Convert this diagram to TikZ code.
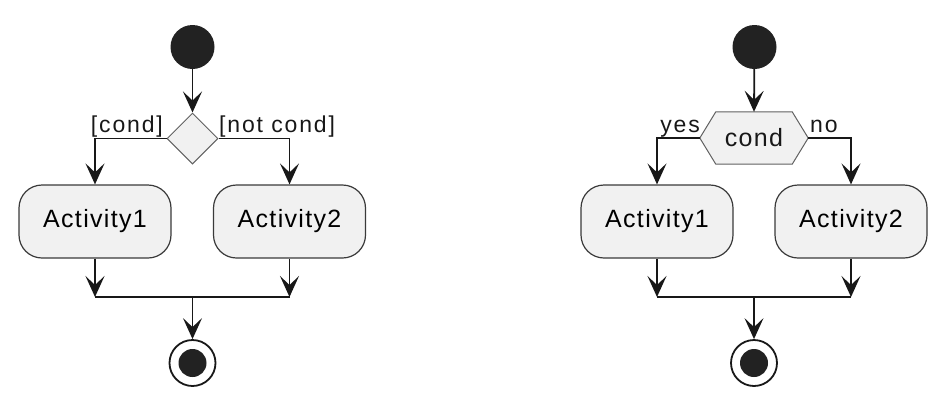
\documentclass[tikz,border=0pt]{standalone}
\usepackage{fontspec}
\setmainfont{Liberation Sans}
\newfontfamily\actfont{Liberation Sans}[LetterSpace=5.3]
\newfontfamily\lblfont{Liberation Sans}[LetterSpace=8]
\usetikzlibrary{arrows.meta,shapes.geometric}
\pgfdeclarelayer{background}
\pgfsetlayers{background,main}

\definecolor{ink}{HTML}{181818}
\definecolor{boxfill}{HTML}{F1F1F1}
\definecolor{boxline}{HTML}{3A3A3A}
\definecolor{dotfill}{HTML}{222222}

\tikzset{
  flowline/.style={draw=ink, line width=1.8pt},
  flow/.style={flowline, -{Stealth[length=21pt,width=19pt,inset=9pt]}},
  activity/.style={draw=boxline, fill=boxfill, line width=1.2pt,
    rounded corners=23pt, minimum width=152pt, minimum height=73pt,
    inner sep=0pt, font=\actfont\fontsize{25}{30}\selectfont},
  startdot/.style={circle, fill=dotfill, minimum size=44pt, inner sep=0pt},
  enddot/.style={circle, draw=ink, line width=1.8pt, fill=white,
    minimum size=46pt, inner sep=0pt},
  decision/.style={diamond, draw=boxline!80, fill=boxfill, line width=1pt,
    minimum width=51pt, minimum height=51pt, inner sep=0pt},
  guard/.style={font=\lblfont\fontsize{23}{27}\selectfont, inner sep=0pt, text=ink},
  hexlabel/.style={minimum width=108pt, minimum height=52pt, inner sep=0pt,
    font=\actfont\fontsize{25}{30}\selectfont, text=ink},
  hexshape/.style={draw=boxline!80, fill=boxfill, line width=1pt}
}

\begin{document}
\begin{tikzpicture}[x=1pt, y=-1pt]
\useasboundingbox (0,0) rectangle (937,397);

% ---------- guarded branches ----------
\node[startdot] (startL) at (192.5,47) {};
\node[decision] (dL) at (192.5,138.5) {};
\node[activity] (a1L) at (95,221.5) {Activity1};
\node[activity] (a2L) at (289.5,221.5) {Activity2};
\coordinate (joinL) at (192.5,297);
\node[enddot] (endL) at (192.5,363) {};
\fill[dotfill] (endL.center) circle (14);

\node[guard, anchor=base east] (gcond) at (163,132) {[cond]};
\node[guard, anchor=base west] (gnot) at (219,132) {[not cond]};

\draw[flow] (startL) -- (dL.north);
\draw[flow] (dL.west) -| (a1L.north);
\draw[flow] (dL.east) -| (a2L.north);
\draw[flow] (a1L.south) -- (a1L.south |- joinL);
\draw[flow] (a2L.south) -- (a2L.south |- joinL);
\draw[flowline] (a1L.south |- joinL) -- (a2L.south |- joinL);
\draw[flow] (joinL) -- (endL.north);

% ---------- if / else with a question ----------
\node[startdot] (startR) at (754.5,47) {};
\node[hexlabel] (cond) at (754,138) {cond};
\begin{pgfonlayer}{background}
  \draw[hexshape] (cond.west) -- ([xshift=16pt]cond.north west)
    -- ([xshift=-16pt]cond.north east) -- (cond.east)
    -- ([xshift=-16pt]cond.south east) -- ([xshift=16pt]cond.south west) -- cycle;
\end{pgfonlayer}
\node[activity] (a1R) at (657,221.5) {Activity1};
\node[activity] (a2R) at (851,221.5) {Activity2};
\coordinate (joinR) at (754,297);
\node[enddot] (endR) at (754,363) {};
\fill[dotfill] (endR.center) circle (14);

\node[guard, anchor=base east] (gyes) at (700,132) {yes};
\node[guard, anchor=base west] (gno) at (810,132) {no};

\draw[flow] (startR) -- (cond.north);
\draw[flow] (cond.west) -| (a1R.north);
\draw[flow] (cond.east) -| (a2R.north);
\draw[flow] (a1R.south) -- (a1R.south |- joinR);
\draw[flow] (a2R.south) -- (a2R.south |- joinR);
\draw[flowline] (a1R.south |- joinR) -- (a2R.south |- joinR);
\draw[flow] (joinR) -- (endR.north);
\end{tikzpicture}
\end{document}
